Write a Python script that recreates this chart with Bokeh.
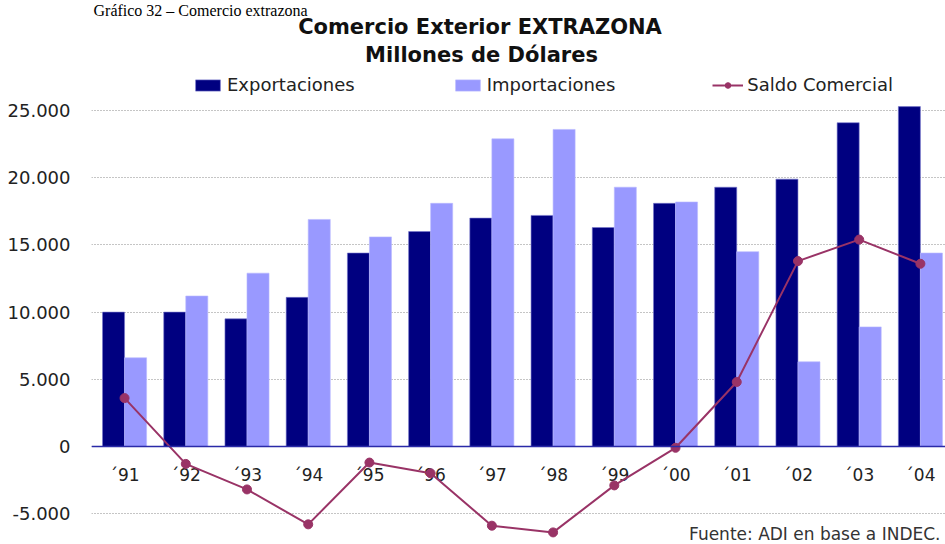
import numpy as np
from bokeh.plotting import figure
from bokeh.models import Range1d, FixedTicker, Legend, LegendItem, Label, Span
from bokeh.core.properties import value
from bokeh.embed import file_html
from bokeh.resources import INLINE

# ---- data ----
years = ["´91", "´92", "´93", "´94", "´95", "´96", "´97",
         "´98", "´99", "´00", "´01", "´02", "´03", "´04"]
exportaciones = [10000, 10000, 9500, 11100, 14400, 16000, 17000,
                 17200, 16300, 18100, 19300, 19900, 24100, 25300]
importaciones = [6600, 11200, 12900, 16900, 15600, 18100, 22900,
                 23600, 19300, 18200, 14500, 6300, 8900, 14400]
saldo = [3600, -1300, -3200, -5800, -1200, -2000, -5900,
         -6400, -2900, -100, 4800, 13800, 15400, 13600]
y_ticks = [-5000, 0, 5000, 10000, 15000, 20000, 25000]
y_tick_labels = ["-5.000", "0", "5.000", "10.000", "15.000", "20.000", "25.000"]

FONT = "DejaVu Sans"
W, H = 945, 544
LEFT = 91

p = figure(width=W, height=H,
           x_range=Range1d(-0.54, 13.41), y_range=Range1d(-7300, 33200),
           x_axis_location=None, output_backend="svg", toolbar_location=None,
           min_border_left=LEFT, min_border_right=0, min_border_top=0,
           min_border_bottom=0, outline_line_color=None,
           background_fill_color="white", border_fill_color="white")

xs = np.arange(len(years))
bw = 0.36

# grid
p.xgrid.visible = False
p.ygrid.ticker = FixedTicker(ticks=y_ticks)
p.ygrid.grid_line_color = "#8a8a8a"
p.ygrid.grid_line_dash = "1 2"
p.ygrid.grid_line_width = 1

# y axis
ax = p.yaxis[0]
ax.ticker = FixedTicker(ticks=y_ticks)
ax.major_label_overrides = {t: l for t, l in zip(y_ticks, y_tick_labels)}
ax.axis_line_color = None
ax.major_tick_line_color = None
ax.minor_tick_line_color = None
ax.major_label_standoff = 15
ax.major_label_text_font = FONT
ax.major_label_text_font_size = "18px"
ax.major_label_text_color = "#222222"

# bars
r_exp = p.vbar(x=xs - bw / 2, top=exportaciones, bottom=0, width=bw,
               fill_color="#000080", line_color="#7777cc", line_width=0.6)
r_imp = p.vbar(x=xs + bw / 2, top=importaciones, bottom=0, width=bw,
               fill_color="#9999FF", line_color="#b8b8ff", line_width=0.6)

# zero line
p.add_layout(Span(location=0, dimension="width", line_color="#2a2aa8",
                  line_width=1.6))

# category labels
p.text(x=xs, y=[-2150] * len(years), text=years, text_align="center",
       text_baseline="middle", text_font=value(FONT), text_font_size="17px",
       text_color="#222222")

# saldo line
r_line = p.line(xs, saldo, line_color="#993366", line_width=2)
r_pts = p.scatter(xs, saldo, size=9, fill_color="#993366",
                  line_color="#993366")

# legend
legend = Legend(items=[
    LegendItem(label="Exportaciones", renderers=[r_exp]),
    LegendItem(label="Importaciones", renderers=[r_imp]),
    LegendItem(label="Saldo Comercial", renderers=[r_line, r_pts]),
], orientation="horizontal", location=(101, 449), spacing=97, padding=0,
    margin=0, glyph_width=31, glyph_height=14, label_standoff=4,
    label_text_font=FONT, label_text_font_size="18px",
    label_text_color="#222222", border_line_color=None,
    background_fill_alpha=0)
p.add_layout(legend)

# titles and notes (screen units relative to the frame)
p.add_layout(Label(x=388.5, y=H - 26, x_units="screen", y_units="screen",
                   text="Comercio Exterior EXTRAZONA", text_align="center",
                   text_baseline="alphabetic", text_font=FONT,
                   text_font_style="bold", text_font_size="21px",
                   text_color="#111111"))
p.add_layout(Label(x=390, y=H - 54, x_units="screen", y_units="screen",
                   text="Millones de Dólares", text_align="center",
                   text_baseline="alphabetic", text_font=FONT,
                   text_font_style="bold", text_font_size="21px",
                   text_color="#111111"))
p.add_layout(Label(x=849, y=11, x_units="screen", y_units="screen",
                   text="Fuente: ADI en base a INDEC.", text_align="right",
                   text_baseline="alphabetic", text_font=FONT,
                   text_font_size="17px", text_color="#333333"))
p.add_layout(Label(x=2, y=H - 10, x_units="screen", y_units="screen",
                   text="Gráfico 32 – Comercio extrazona", text_align="left",
                   text_baseline="alphabetic", text_font="Liberation Serif",
                   text_font_size="16px", text_color="#000000"))

open("out.html", "w").write(file_html(p, INLINE, title="Comercio Exterior EXTRAZONA"))
